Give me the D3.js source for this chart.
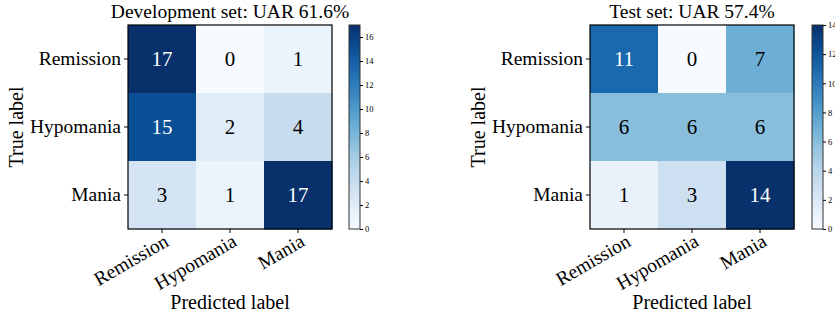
<!DOCTYPE html>
<html>
<head>
<meta charset="utf-8">
<script src="https://cdn.jsdelivr.net/npm/d3@7"></script>
<style>
  body { margin: 0; background: #fff; }
  svg text { font-family: "Liberation Serif", "DejaVu Serif", serif !important; fill: #000; }
</style>
</head>
<body>
<svg id="chart" width="835" height="318"></svg>
<script>
var classes = ["Remission", "Hypomania", "Mania"];
var devTitle = "Development set: UAR 61.6%";
var devMatrix = [[17, 0, 1], [15, 2, 4], [3, 1, 17]];
var devTicks = [0, 2, 4, 6, 8, 10, 12, 14, 16];
var testTitle = "Test set: UAR 57.4%";
var testMatrix = [[11, 0, 7], [6, 6, 6], [1, 3, 14]];
var testTicks = [0, 2, 4, 6, 8, 10, 12, 14];

var svg = d3.select("#chart");

function confusion(title, matrix, ticks, left, cbLeft) {
  var top = 25, size = 204, cbWidth = 11;
  var vmax = d3.max(matrix, function(r) { return d3.max(r); });
  var color = d3.scaleSequential(d3.interpolateBlues).domain([0, vmax]);

  var x = d3.scaleBand().domain(classes).range([left, left + size]);
  var y = d3.scaleBand().domain(classes).range([top, top + size]);

  var cells = [];
  matrix.forEach(function(row, i) {
    row.forEach(function(v, j) { cells.push({t: classes[i], p: classes[j], v: v}); });
  });

  var g = svg.append("g");

  g.selectAll("rect.cell")
    .data(cells)
    .enter()
    .append("rect")
    .attr("class", "cell")
    .attr("x", d => x(d.p))
    .attr("y", d => y(d.t))
    .attr("width", x.bandwidth() + 0.5)
    .attr("height", y.bandwidth() + 0.5)
    .style("fill", d => color(d.v));

  g.selectAll("text.val")
    .data(cells)
    .enter()
    .append("text")
    .attr("class", "val")
    .attr("x", d => x(d.p) + x.bandwidth()/2)
    .attr("y", d => y(d.t) + y.bandwidth()/2)
    .attr("dy", "0.35em")
    .attr("text-anchor", "middle")
    .style("font-size", "21px")
    .style("fill", d => d.v > vmax/2 ? "#fff" : "#000")
    .text(d => d.v);

  g.append("rect")
    .attr("x", left).attr("y", top)
    .attr("width", size).attr("height", size)
    .style("fill", "none").style("stroke", "#000").style("stroke-width", 1.2);

  // axes
  var yAxis = g.append("g")
    .attr("transform", "translate(" + left + ",0)")
    .call(d3.axisLeft(y).tickSizeInner(4).tickSizeOuter(0).tickPadding(3));
  yAxis.select(".domain").remove();
  yAxis.selectAll("text").style("font-size", "19.5px");

  var xAxis = g.append("g")
    .attr("transform", "translate(0," + (top + size) + ")")
    .call(d3.axisBottom(x).tickSizeInner(4).tickSizeOuter(0).tickPadding(3));
  xAxis.select(".domain").remove();
  xAxis.selectAll("text")
    .style("font-size", "19.5px")
    .attr("text-anchor", "end")
    .attr("y", 0)
    .attr("dy", 0)
    .attr("transform", "translate(8,16) rotate(-30)");

  g.append("text")
    .attr("x", left + size/2)
    .attr("y", top - 7)
    .attr("text-anchor", "middle")
    .style("font-size", "19.5px")
    .text(title);

  g.append("text")
    .attr("transform", "rotate(-90)")
    .attr("x", -(top + size/2))
    .attr("y", left - 105)
    .attr("text-anchor", "middle")
    .style("font-size", "20px")
    .text("True label");

  g.append("text")
    .attr("x", left + size/2)
    .attr("y", top + size + 80)
    .attr("text-anchor", "middle")
    .style("font-size", "20px")
    .text("Predicted label");

  // colorbar
  var cy = d3.scaleLinear().domain([0, vmax]).range([top + size, top]);
  var gradId = "grad" + left;
  var grad = svg.append("defs").append("linearGradient")
    .attr("id", gradId)
    .attr("x1", 0).attr("y1", 1).attr("x2", 0).attr("y2", 0);
  d3.range(0, 1.01, 0.1).forEach(function(t) {
    grad.append("stop").attr("offset", t).attr("stop-color", d3.interpolateBlues(t));
  });
  g.append("rect")
    .attr("x", cbLeft).attr("y", top)
    .attr("width", cbWidth).attr("height", size)
    .style("fill", "url(#" + gradId + ")")
    .style("stroke", "#333").style("stroke-width", 1);

  var cAxis = g.append("g")
    .attr("transform", "translate(" + (cbLeft + cbWidth) + ",0)")
    .call(d3.axisRight(cy).tickValues(ticks).tickSizeInner(3).tickSizeOuter(0).tickPadding(2));
  cAxis.select(".domain").remove();
  cAxis.selectAll("text").style("font-size", "8.5px");
}

confusion(devTitle, devMatrix, devTicks, 128, 349);
confusion(testTitle, testMatrix, testTicks, 590, 812);
</script>
</body>
</html>
